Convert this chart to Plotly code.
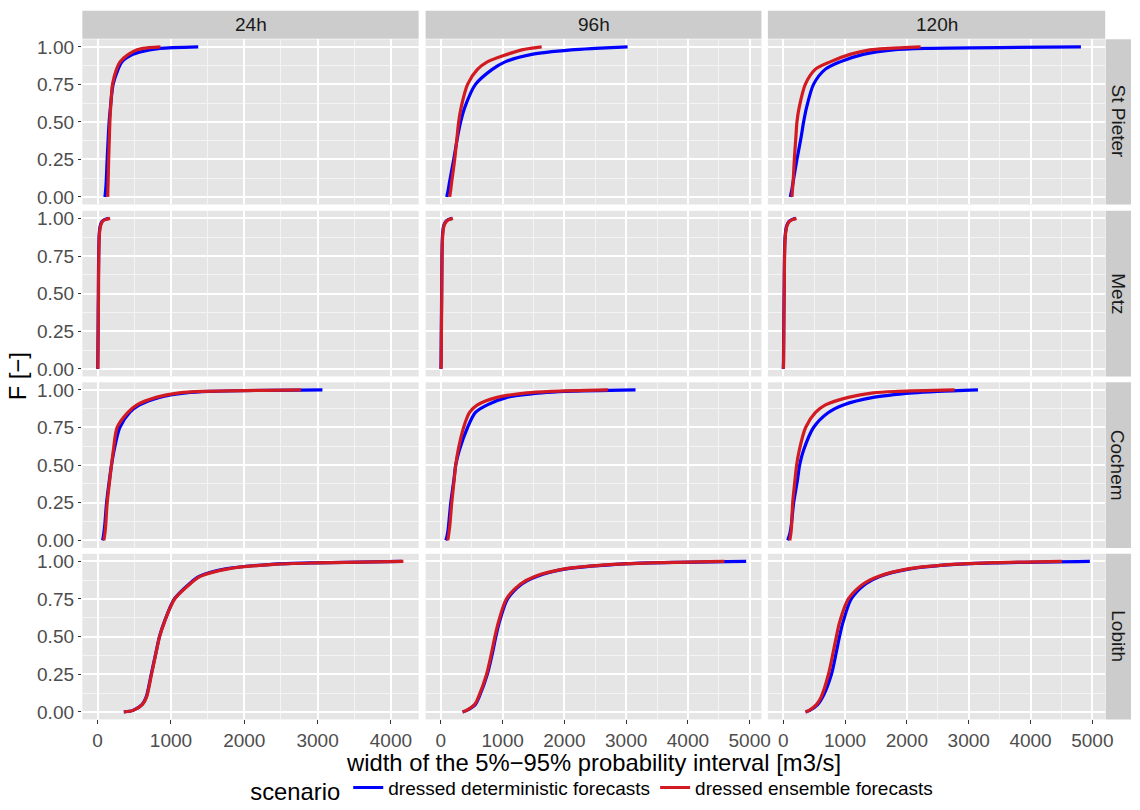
import plotly.graph_objects as go

W, H = 1140, 810

# ---------------- data ----------------
F_LEVELS = [0, 0.01, 0.05, 0.1, 0.25, 0.4, 0.5, 0.6, 0.75, 0.85, 0.9, 0.95, 0.98, 0.99, 1.0]
HORIZONS = ["24h", "96h", "120h"]
STATIONS = ["St Pieter", "Metz", "Cochem", "Lobith"]
SCENARIOS = ["dressed deterministic forecasts", "dressed ensemble forecasts"]
COLORS = ["#0000FF", "#D11A22"]

# widths of the 5%-95% interval [m3/s] at each F level
stpieter_24h_det = [99, 102, 110, 117, 130, 145, 157, 175, 211, 279, 330, 480, 708, 850, 1372]
stpieter_24h_ens = [137, 138, 140, 143, 150, 160, 167, 178, 203, 257, 305, 420, 540, 620, 857]
stpieter_96h_det = [96, 100, 120, 140, 208, 270, 320, 390, 560, 832, 1040, 1472, 2112, 2500, 3024]
stpieter_96h_ens = [144, 146, 160, 175, 224, 262, 288, 330, 432, 592, 752, 1072, 1312, 1450, 1632]
stpieter_120h_det = [116, 120, 140, 160, 222, 290, 330, 380, 490, 678, 920, 1294, 1777, 2300, 4815]
stpieter_120h_ens = [141, 143, 150, 160, 180, 205, 222, 260, 357, 518, 759, 1080, 1402, 1700, 2222]

metz_24h_det = [0, 1, 2, 3, 6, 8, 10, 11, 14, 18, 22, 35, 60, 85, 150]
metz_24h_ens = [2, 3, 4, 5, 8, 10, 12, 13, 16, 20, 25, 40, 65, 95, 170]
metz_96h_det = [0, 1, 3, 4, 7, 10, 12, 14, 17, 22, 28, 45, 80, 110, 180]
metz_96h_ens = [2, 3, 5, 6, 9, 12, 14, 16, 19, 25, 32, 50, 90, 120, 195]
metz_120h_det = [0, 2, 4, 5, 8, 11, 14, 16, 20, 27, 35, 55, 95, 130, 200]
metz_120h_ens = [2, 4, 6, 7, 10, 13, 16, 18, 22, 29, 38, 60, 100, 140, 215]

cochem_24h_det = [67, 72, 85, 97, 122, 160, 189, 225, 302, 437, 572, 843, 1204, 1520, 3066]
cochem_24h_ens = [85, 88, 100, 110, 130, 165, 189, 215, 266, 414, 536, 798, 1114, 1429, 2774]
cochem_96h_det = [80, 88, 110, 125, 160, 210, 240, 300, 432, 560, 752, 1072, 1632, 2032, 3152]
cochem_96h_ens = [112, 115, 130, 145, 176, 215, 240, 280, 368, 464, 592, 912, 1392, 1792, 2704]
cochem_120h_det = [72, 80, 110, 130, 169, 230, 265, 330, 490, 731, 973, 1455, 2098, 2500, 3150]
cochem_120h_ens = [105, 110, 125, 135, 153, 190, 217, 260, 362, 522, 683, 1053, 1455, 1857, 2773]

lobith_24h_det = [356, 482, 608, 663, 731, 798, 843, 911, 1046, 1249, 1384, 1746, 2377, 2963, 4150]
lobith_24h_ens = [360, 485, 612, 668, 735, 800, 845, 913, 1050, 1260, 1400, 1780, 2400, 3000, 4170]
lobith_96h_det = [352, 420, 560, 620, 752, 840, 890, 950, 1080, 1312, 1552, 2032, 2832, 3400, 4944]
lobith_96h_ens = [350, 415, 550, 610, 740, 825, 875, 935, 1060, 1290, 1520, 2000, 2800, 3400, 4592]
lobith_120h_det = [362, 430, 560, 640, 780, 860, 910, 970, 1100, 1330, 1560, 2050, 2780, 3400, 4960]
lobith_120h_ens = [360, 420, 540, 615, 732, 810, 860, 915, 1053, 1294, 1536, 2018, 2741, 3300, 4510]

CURVES = {
    ("St Pieter", "24h"): (stpieter_24h_det, stpieter_24h_ens),
    ("St Pieter", "96h"): (stpieter_96h_det, stpieter_96h_ens),
    ("St Pieter", "120h"): (stpieter_120h_det, stpieter_120h_ens),
    ("Metz", "24h"): (metz_24h_det, metz_24h_ens),
    ("Metz", "96h"): (metz_96h_det, metz_96h_ens),
    ("Metz", "120h"): (metz_120h_det, metz_120h_ens),
    ("Cochem", "24h"): (cochem_24h_det, cochem_24h_ens),
    ("Cochem", "96h"): (cochem_96h_det, cochem_96h_ens),
    ("Cochem", "120h"): (cochem_120h_det, cochem_120h_ens),
    ("Lobith", "24h"): (lobith_24h_det, lobith_24h_ens),
    ("Lobith", "96h"): (lobith_96h_det, lobith_96h_ens),
    ("Lobith", "120h"): (lobith_120h_det, lobith_120h_ens),
}

# ---------------- layout geometry (pixels) ----------------
COL_PX = [(83, 422), (429, 767.5), (774, 1114)]
ROW_PX = [(37, 205), (211.5, 380), (386, 554.5), (560.5, 729)]
STRIP_TOP = (8, 36.5)
STRIP_RIGHT = (1114.5, 1140)

FONT = "Liberation Sans, Arial, Helvetica, sans-serif"
SMALL = 19
LARGE = 23.8
PANEL_BG = "#E5E5E5"
STRIP_BG = "#CCCCCC"


def fx(p):
    return p / W


def fy(p):
    return 1 - p / H


fig = go.Figure()

# x range per column (free x scale, 5% expansion like ggplot)
col_ranges = []
for h in HORIZONS:
    vals = []
    for s in STATIONS:
        for arr in CURVES[(s, h)]:
            vals.extend(arr)
    lo, hi = min(vals), max(vals)
    r = hi - lo
    col_ranges.append([lo - 0.05 * r, hi + 0.05 * r])

layout_axes = {}
for ri, s in enumerate(STATIONS):
    for ci, h in enumerate(HORIZONS):
        idx = ri * 3 + ci + 1
        sfx = "" if idx == 1 else str(idx)
        xa, ya = "x" + sfx, "y" + sfx
        for k, (arr, name, col) in enumerate(zip(CURVES[(s, h)], SCENARIOS, COLORS)):
            fig.add_trace(go.Scatter(
                x=arr, y=F_LEVELS, mode="lines", name=name,
                line=dict(color=col, width=3.2, shape="spline", smoothing=0.8),
                xaxis=xa, yaxis=ya,
                showlegend=(idx == 1), legendgroup=name,
            ))
        bottom = ri == len(STATIONS) - 1
        left = ci == 0
        layout_axes["xaxis" + sfx] = dict(
            domain=[fx(COL_PX[ci][0]), fx(COL_PX[ci][1])],
            anchor=ya, range=col_ranges[ci],
            tick0=0, dtick=1000, tickformat="d",
            showgrid=True, gridcolor="white", gridwidth=1.8,
            minor=dict(dtick=500, tick0=0, showgrid=True, gridcolor="#F4F4F4", gridwidth=0.9),
            zeroline=False, showline=False,
            showticklabels=bottom, ticks="outside" if bottom else "",
            ticklen=3.5, tickwidth=1, tickcolor="#333333",
            tickfont=dict(family=FONT, size=SMALL, color="#4D4D4D"),
        )
        layout_axes["yaxis" + sfx] = dict(
            domain=[fy(ROW_PX[ri][1]), fy(ROW_PX[ri][0])],
            anchor=xa, range=[-0.05, 1.05],
            tickvals=[0, 0.25, 0.5, 0.75, 1.0], tickformat=".2f",
            showgrid=True, gridcolor="white", gridwidth=1.8,
            minor=dict(tickvals=[0.125, 0.375, 0.625, 0.875], showgrid=True,
                       gridcolor="#F4F4F4", gridwidth=0.9),
            zeroline=False, showline=False,
            showticklabels=left, ticks="outside" if left else "",
            ticklen=3.5, tickwidth=1, tickcolor="#333333",
            tickfont=dict(family=FONT, size=SMALL, color="#4D4D4D"),
        )

shapes = []
annotations = []
# top strips
for ci, h in enumerate(HORIZONS):
    shapes.append(dict(type="rect", xref="paper", yref="paper",
                       x0=fx(COL_PX[ci][0]), x1=fx(COL_PX[ci][1]),
                       y0=fy(STRIP_TOP[1]), y1=fy(STRIP_TOP[0]),
                       fillcolor=STRIP_BG, line=dict(width=0), layer="below"))
    annotations.append(dict(text=h, xref="paper", yref="paper",
                            x=fx((COL_PX[ci][0] + COL_PX[ci][1]) / 2),
                            y=fy((STRIP_TOP[0] + STRIP_TOP[1]) / 2),
                            showarrow=False, xanchor="center", yanchor="middle",
                            font=dict(family=FONT, size=SMALL, color="#1A1A1A")))
# right strips
for ri, s in enumerate(STATIONS):
    shapes.append(dict(type="rect", xref="paper", yref="paper",
                       x0=fx(STRIP_RIGHT[0]), x1=fx(STRIP_RIGHT[1]),
                       y0=fy(ROW_PX[ri][1]), y1=fy(ROW_PX[ri][0]),
                       fillcolor=STRIP_BG, line=dict(width=0), layer="below"))
    annotations.append(dict(text=s, xref="paper", yref="paper", textangle=90,
                            x=fx((STRIP_RIGHT[0] + STRIP_RIGHT[1]) / 2),
                            y=fy((ROW_PX[ri][0] + ROW_PX[ri][1]) / 2),
                            showarrow=False, xanchor="center", yanchor="middle",
                            font=dict(family=FONT, size=SMALL, color="#1A1A1A")))

# axis titles
annotations.append(dict(text="width of the 5%\u221295% probability interval [m3/s]",
                        xref="paper", yref="paper",
                        x=fx((COL_PX[0][0] + COL_PX[2][1]) / 2), y=fy(773),
                        showarrow=False, xanchor="center", yanchor="middle", borderpad=0,
                        font=dict(family=FONT, size=LARGE, color="black")))
annotations.append(dict(text="F [\u2212]", xref="paper", yref="paper", textangle=-90,
                        x=fx(18), y=fy(380),
                        showarrow=False, xanchor="center", yanchor="middle",
                        font=dict(family=FONT, size=LARGE, color="black")))

fig.update_layout(
    width=W, height=H,
    margin=dict(l=0, r=0, t=0, b=0),
    paper_bgcolor="white", plot_bgcolor=PANEL_BG,
    font=dict(family=FONT),
    shapes=shapes, annotations=annotations,
    showlegend=True,
    legend=dict(orientation="h", x=fx(598), xanchor="center", y=fy(800), yanchor="middle",
                title=dict(text="scenario", side="left",
                           font=dict(family=FONT, size=LARGE, color="black")),
                font=dict(family=FONT, size=SMALL, color="black"),
                itemwidth=30, bgcolor="rgba(0,0,0,0)", tracegroupgap=0),
    **layout_axes,
)

fig.write_html("out.html")
